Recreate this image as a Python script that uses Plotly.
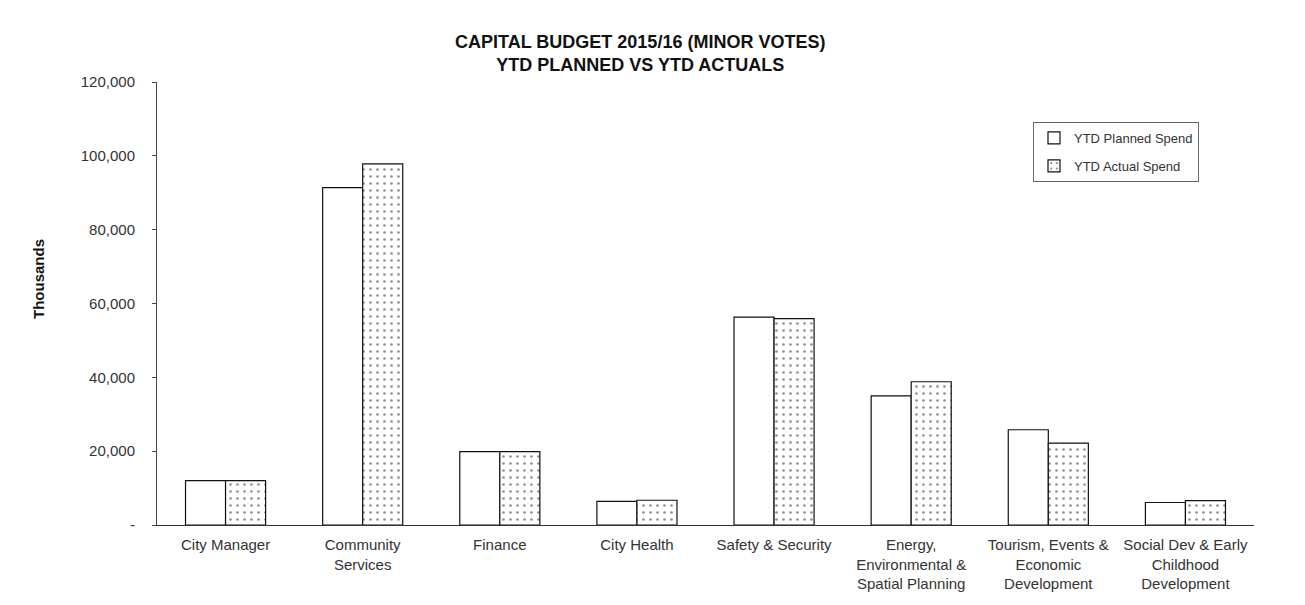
import plotly.graph_objects as go

categories = ["City Manager", "Community<br>Services", "Finance", "City Health",
              "Safety & Security", "Energy,<br>Environmental &<br>Spatial Planning",
              "Tourism, Events &<br>Economic<br>Development",
              "Social Dev & Early<br>Childhood<br>Development"]
planned = [12000, 91400, 19900, 6400, 56300, 35000, 25800, 6100]
actual = [12000, 97800, 19900, 6700, 55900, 38800, 22200, 6600]
tick_vals = [0, 20000, 40000, 60000, 80000, 100000, 120000]
tick_text = ["-", "20,000", "40,000", "60,000", "80,000", "100,000", "120,000"]

FONT = "Liberation Sans, Arial, sans-serif"
W, H = 1305, 605
L, R, T, B = 157, 51, 82, 80
PW, PH = W - L - R, H - T - B


def px(x):
    return (x - L) / PW


def py(y):
    return (H - B - y) / PH


fig = go.Figure()
fig.add_trace(go.Bar(
    x=categories, y=planned, name="YTD Planned Spend", legendgroup="p",
    marker=dict(color="white", line=dict(color="#111", width=1.2)),
))
fig.add_trace(go.Bar(
    x=categories, y=actual, name="YTD Actual Spend", legendgroup="a",
    marker=dict(color="white", line=dict(color="#111", width=1.2),
                pattern=dict(shape=".", fgcolor="#222", bgcolor="white",
                             size=7, solidity=0.12)),
))

fig.update_layout(
    width=W, height=H,
    margin=dict(l=L, r=R, t=T, b=B),
    paper_bgcolor="white", plot_bgcolor="white",
    font=dict(family=FONT, size=15, color="#333"),
    barmode="group", bargap=0.416, bargroupgap=0,
    showlegend=True,
    legend=dict(x=px(1033), y=py(122), xanchor="left", yanchor="top",
                bgcolor="white", bordercolor="#666", borderwidth=1,
                font=dict(size=13, color="#333"), itemwidth=30,
                traceorder="grouped", tracegroupgap=8),
    xaxis=dict(showline=True, linecolor="#333", linewidth=1,
               ticks="", tickfont=dict(size=15, color="#333"),
               ticklabelstandoff=6, showgrid=False),
    yaxis=dict(range=[0, 120000], tickvals=tick_vals, ticktext=tick_text,
               showline=True, linecolor="#444", linewidth=1,
               ticks="outside", ticklen=4, tickcolor="#444",
               ticklabelstandoff=14,
               tickfont=dict(size=15, color="#333"),
               showgrid=False, zeroline=False),
    annotations=[
        dict(text="<b>CAPITAL BUDGET 2015/16 (MINOR VOTES)<br>YTD PLANNED VS YTD ACTUALS</b>",
             x=px(640), xref="paper", y=py(53), yref="paper", showarrow=False,
             xanchor="center", yanchor="middle",
             font=dict(size=18, color="#111")),
        dict(text="<b>Thousands</b>", textangle=-90,
             x=px(38), xref="paper", y=py(279), yref="paper", showarrow=False,
             xanchor="center", yanchor="middle",
             font=dict(size=15, color="#111")),
    ],
)

fig.write_html("out.html")
